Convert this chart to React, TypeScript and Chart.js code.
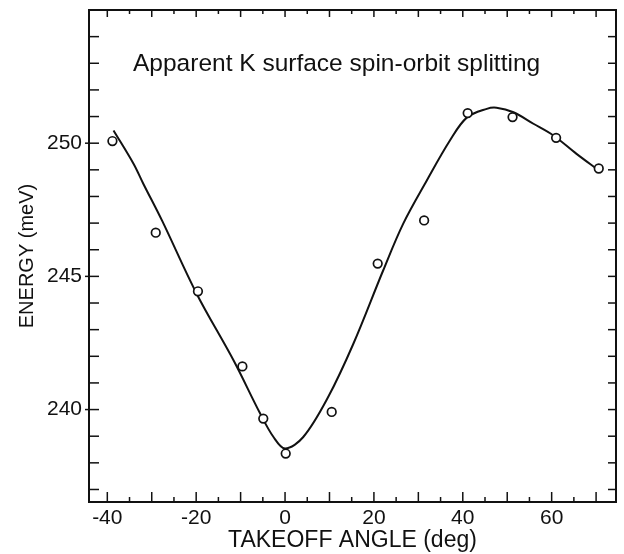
import React, { useEffect, useRef } from "react";
import { Chart, registerables } from "chart.js";

Chart.register(...registerables);

// Measured data points (takeoff angle, energy)
const angles = [-38.85, -29.1, -19.6, -9.6, -4.9, 0.15, 10.5, 20.85, 31.3, 41.1, 51.2, 61.0, 70.6];
const energies = [250.08, 246.64, 244.44, 241.62, 239.66, 238.35, 239.91, 245.48, 247.1, 251.13, 250.98, 250.2, 249.05];

// Smooth fitted curve
const fitAngles = [-38.6, -34.1, -31.9, -27.7, -19.9, -11.6, -5.6, -2.6, 0, 4.1, 9.7, 15.4, 22.1, 26.6, 31.9, 37.1, 40.9, 45.4, 47.6, 51.4, 55.9, 60.4, 65.6, 70.6];
const fitEnergies = [250.48, 249.23, 248.48, 247.1, 244.35, 241.85, 239.85, 238.97, 238.54, 238.97, 240.47, 242.48, 245.23, 246.98, 248.6, 250.1, 250.96, 251.29, 251.33, 251.16, 250.73, 250.29, 249.6, 248.98];

// Axis ticks
const xTickValues = [-40, -35, -30, -25, -20, -15, -10, -5, 0, 5, 10, 15, 20, 25, 30, 35, 40, 45, 50, 55, 60, 65, 70];
const xLabelValues = [-40, -20, 0, 20, 40, 60];
const yTickValues = [237, 238, 239, 240, 241, 242, 243, 244, 245, 246, 247, 248, 249, 250, 251, 252, 253, 254];
const yLabelValues = [240, 245, 250];

const chartTitle = "Apparent K surface spin-orbit splitting";
const xTitle = "TAKEOFF ANGLE (deg)";
const yTitle = "ENERGY (meV)";

const FONT = '"Liberation Sans", Arial, Helvetica, sans-serif';
const INK = "#111";

const framePlugin = {
  id: "frame",
  afterDatasetsDraw(chart: any) {
    const { ctx, chartArea, scales } = chart;
    const { left, right, top, bottom } = chartArea;
    const x = scales.x;
    const y = scales.y;
    ctx.save();
    ctx.strokeStyle = INK;
    ctx.lineWidth = 2;
    ctx.strokeRect(left, top, right - left, bottom - top);
    ctx.lineWidth = 1.5;
    const seg = (x1: number, y1: number, x2: number, y2: number) => {
      ctx.beginPath();
      ctx.moveTo(x1, y1);
      ctx.lineTo(x2, y2);
      ctx.stroke();
    };
    xTickValues.forEach((v) => {
      const px = x.getPixelForValue(v);
      const len = v % 10 === 0 ? 10 : 5;
      seg(px, bottom, px, bottom - len);
      seg(px, top, px, top + (v % 10 === 0 ? 7 : 4));
    });
    yTickValues.forEach((v) => {
      const py = y.getPixelForValue(v);
      const major = yLabelValues.includes(v);
      seg(left - (major ? 4 : 0), py, left + 10, py);
      seg(right - 8, py, right, py);
    });
    ctx.fillStyle = INK;
    ctx.font = `24.5px ${FONT}`;
    ctx.textAlign = "left";
    ctx.textBaseline = "alphabetic";
    ctx.fillText(chartTitle, left + 44, top + 61);
    ctx.restore();
  },
};

export default function App() {
  const ref = useRef<HTMLCanvasElement | null>(null);

  useEffect(() => {
    document.body.style.margin = "0";
    const canvas = ref.current;
    if (!canvas) return;
    const chart = new Chart(canvas, {
      type: "scatter",
      data: {
        datasets: [
          {
            label: "points",
            data: angles.map((a, i) => ({ x: a, y: energies[i] })),
            showLine: false,
            pointRadius: 4.3,
            pointBorderWidth: 1.7,
            pointBackgroundColor: "#fff",
            pointBorderColor: INK,
            order: 0,
          },
          {
            label: "fit",
            data: fitAngles.map((a, i) => ({ x: a, y: fitEnergies[i] })),
            showLine: true,
            pointRadius: 0,
            borderColor: INK,
            borderWidth: 2,
            tension: 0.35,
            order: 1,
          },
        ],
      },
      options: {
        responsive: false,
        animation: false,
        events: [],
        layout: { padding: { top: 10, right: 8, left: 0, bottom: 0 } },
        plugins: {
          legend: { display: false },
          tooltip: { enabled: false },
          title: { display: false },
        },
        scales: {
          x: {
            type: "linear",
            min: -44.12,
            max: 74.48,
            grid: { display: false, drawTicks: false },
            border: { display: false },
            afterBuildTicks: (scale: any) => {
              scale.ticks = xTickValues.map((v) => ({ value: v }));
            },
            afterFit: (scale: any) => {
              scale.height = 52;
              scale.paddingLeft = 0;
              scale.paddingRight = 0;
            },
            ticks: {
              autoSkip: false,
              maxRotation: 0,
              padding: 4,
              color: INK,
              font: { family: FONT, size: 21 },
              callback: (v: any) => (xLabelValues.includes(Number(v)) ? String(v) : ""),
            },
            title: {
              display: true,
              text: xTitle,
              color: INK,
              font: { family: FONT, size: 23 },
              padding: { top: 0, bottom: 0 },
            },
          },
          y: {
            type: "linear",
            min: 236.53,
            max: 255.0,
            grid: { display: false, drawTicks: false },
            border: { display: false },
            afterBuildTicks: (scale: any) => {
              scale.ticks = yTickValues.map((v) => ({ value: v }));
            },
            afterFit: (scale: any) => {
              scale.width = 89;
              scale.paddingTop = 0;
              scale.paddingBottom = 0;
            },
            ticks: {
              autoSkip: false,
              padding: 7,
              color: INK,
              font: { family: FONT, size: 21 },
              callback: (v: any) => (yLabelValues.includes(Number(v)) ? String(v) : ""),
            },
            title: {
              display: true,
              text: yTitle,
              color: INK,
              font: { family: FONT, size: 20 },
              padding: { top: 15, bottom: 0 },
            },
          },
        },
      },
      plugins: [framePlugin],
    });
    return () => chart.destroy();
  }, []);

  return <canvas ref={ref} width={624} height={554} style={{ display: "block" }} />;
}
